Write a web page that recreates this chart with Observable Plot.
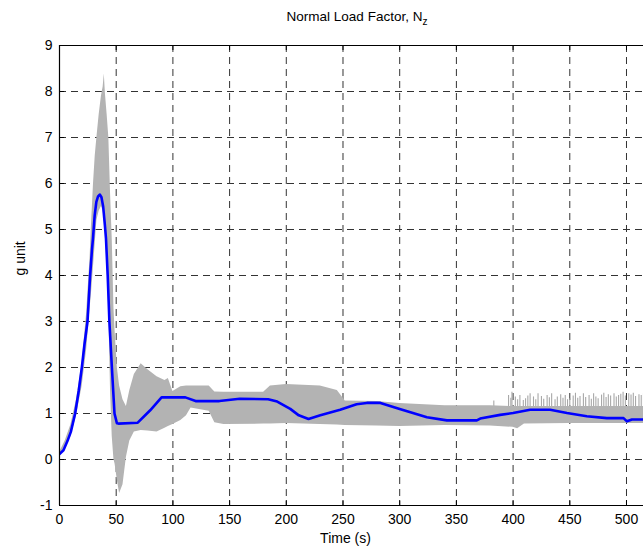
<!DOCTYPE html>
<html>
<head>
<meta charset="utf-8">
<script src="https://cdn.jsdelivr.net/npm/d3@7"></script>
<script src="https://cdn.jsdelivr.net/npm/@observablehq/plot@0.6"></script>
<style>
  html, body { margin: 0; padding: 0; background: #fff; }
  #wrap { position: relative; width: 643px; height: 553px; overflow: hidden; }
  #title { position: absolute; top: 9px; left: 0; width: 714px; text-align: center;
           font: 13.5px "Liberation Sans", Arial, sans-serif; color: #000; }
  #title sub { font-size: 10px; vertical-align: -4px; line-height: 0; }
</style>
</head>
<body>
<div id="wrap"><div id="title">Normal Load Factor, N<sub>z</sub></div></div>
<script>
// Tick values
const xTicks = [0, 50, 100, 150, 200, 250, 300, 350, 400, 450, 500];
const yTicks = [-1, 0, 1, 2, 3, 4, 5, 6, 7, 8, 9];

// Gray Monte Carlo envelope (time, lower bound, upper bound)
const envT  = [0, 5, 10, 15, 20, 24, 27, 28, 30, 31.5, 33, 35, 37, 38.5, 39.5, 40.5, 42, 43.5, 45, 46.5, 48, 49, 51, 53, 56, 59, 62, 66, 72, 78, 86, 93, 96, 100, 107, 112, 116, 132, 137, 145, 180, 186, 200, 230, 245, 252, 280, 300, 340, 380, 400, 404, 410, 450, 515];
const envLo = [0.07, 0.25, 0.50, 0.95, 1.60, 2.40, 3.30, 3.55, 4.20, 4.70, 5.20, 5.40, 5.50, 5.40, 5.20, 4.90, 4.20, 3.20, 1.50, 0.50, 0.00, -0.10, -0.45, -0.74, -0.55, 0.05, 0.40, 0.60, 0.63, 0.62, 0.60, 0.68, 0.72, 0.76, 0.85, 0.95, 1.12, 1.05, 0.80, 0.76, 0.77, 0.77, 0.78, 0.76, 0.75, 0.74, 0.73, 0.72, 0.74, 0.73, 0.70, 0.67, 0.77, 0.78, 0.78];
const envHi = [0.15, 0.40, 0.75, 1.30, 2.10, 3.20, 4.40, 5.00, 6.00, 6.60, 7.00, 7.50, 7.90, 8.10, 8.38, 7.95, 7.50, 7.00, 5.80, 4.80, 3.30, 2.80, 2.00, 1.60, 1.30, 1.15, 1.50, 1.85, 2.08, 1.95, 1.80, 1.72, 1.76, 1.48, 1.58, 1.60, 1.60, 1.60, 1.47, 1.46, 1.46, 1.60, 1.63, 1.60, 1.50, 1.27, 1.26, 1.22, 1.17, 1.17, 1.15, 1.15, 1.15, 1.15, 1.15];

// Noisy gray spikes above the envelope late in the run
const spikeT   = [383, 396, 398, 399, 402, 404, 406, 409, 411, 413, 415, 418, 420, 422, 425, 427, 430, 432, 434, 437, 439, 442, 444, 446, 448, 450, 453, 455, 457, 459, 462, 464, 467, 469, 471, 473, 475, 478, 480, 482, 484, 486, 489, 491, 493, 495, 497, 499, 502, 504, 506, 508, 511, 513, 515];
const spikeTop = [1.27, 1.39, 1.33, 1.46, 1.36, 1.30, 1.39, 1.28, 1.32, 1.38, 1.43, 1.36, 1.30, 1.43, 1.37, 1.31, 1.39, 1.34, 1.43, 1.30, 1.36, 1.41, 1.33, 1.39, 1.30, 1.32, 1.38, 1.44, 1.33, 1.37, 1.43, 1.35, 1.39, 1.31, 1.43, 1.36, 1.32, 1.40, 1.44, 1.35, 1.41, 1.38, 1.43, 1.36, 1.39, 1.42, 1.46, 1.38, 1.43, 1.40, 1.44, 1.37, 1.41, 1.39, 1.43];

// Blue nominal (mean) response
const meanT = [0, 3.5, 7, 10, 13.8, 17, 19.7, 22, 24.7, 27, 28.6, 29.5, 31, 32.5, 34, 35.5, 37, 38.5, 40, 41, 42.5, 44, 46.2, 48.5, 50.6, 52, 69, 80, 90, 111, 120, 141, 159, 184, 192, 203.5, 211, 219.6, 230, 247.5, 262, 271, 283, 300, 324, 341.6, 368, 371, 388.6, 400, 415, 432.7, 447.5, 465, 482.7, 497.4, 500.4, 504.8, 515];
const meanNz = [0.12, 0.2, 0.4, 0.6, 1.0, 1.5, 2.0, 2.5, 3.0, 4.0, 4.55, 4.8, 5.3, 5.6, 5.72, 5.76, 5.7, 5.5, 5.1, 4.8, 4.0, 3.0, 2.0, 1.0, 0.79, 0.78, 0.8, 1.07, 1.35, 1.35, 1.27, 1.27, 1.32, 1.31, 1.26, 1.1, 0.96, 0.88, 0.96, 1.08, 1.2, 1.23, 1.23, 1.1, 0.92, 0.85, 0.85, 0.89, 0.97, 1.01, 1.08, 1.08, 1.01, 0.94, 0.9, 0.9, 0.83, 0.87, 0.87];

const env = envT.map((t, i) => ({t, lo: envLo[i], hi: envHi[i]}));
const spikes = spikeT.map((t, i) => ({t, top: spikeTop[i]}));
const mean = meanT.map((t, i) => ({t, nz: meanNz[i]}));

const W = 643, H = 553, mT = 45, mB = 48, mL = 59, mR = 0;
const plotH = H - mT - mB, plotW = W - mL - mR;
const font = '"Liberation Sans", Arial, sans-serif';
const grid = {stroke: "#333", strokeWidth: 1, strokeDasharray: "7,5"};

const chart = Plot.plot({
  width: W, height: H,
  marginTop: mT, marginBottom: mB, marginLeft: mL, marginRight: mR,
  style: {fontFamily: font, fontSize: "14px", color: "#000", background: "#fff"},
  x: {domain: [0, 515]},
  y: {domain: [-1, 9]},
  marks: [
    Plot.ruleX(xTicks.slice(1), {x: d => d, ...grid}),
    Plot.ruleY(yTicks.slice(1, -1), {y: d => d, ...grid}),
    Plot.ruleX(spikes, {x: "t", y1: 1.1, y2: "top", stroke: "#a8a8a8", strokeWidth: 1.1, clip: true}),
    Plot.areaY(env, {x: "t", y1: "lo", y2: "hi", fill: "#b3b3b3", clip: true}),
    Plot.line(mean, {x: "t", y: "nz", stroke: "#0000ff", strokeWidth: 2.6, clip: true}),
    Plot.tickX(xTicks, {x: d => d, insetTop: plotH - 5, stroke: "#000"}),
    Plot.tickX(xTicks, {x: d => d, insetBottom: plotH - 5, stroke: "#000"}),
    Plot.tickY(yTicks, {y: d => d, insetRight: plotW - 5, stroke: "#000"}),
    Plot.ruleY([-1, 9], {y: d => d, stroke: "#000", strokeWidth: 1.2}),
    Plot.ruleX([0], {x: d => d, stroke: "#000", strokeWidth: 1.2}),
    Plot.axisX({ticks: xTicks, tickSize: 0, tickPadding: 9, tickFormat: d => String(d), label: null, fontSize: 14}),
    Plot.axisY({ticks: yTicks, tickSize: 0, tickPadding: 7, tickFormat: d => String(d), label: null, fontSize: 14}),
    Plot.text(["Time (s)"], {frameAnchor: "bottom", text: d => d, dy: 37, dx: -6, fontSize: 14, fill: "#000"}),
    Plot.text(["g unit"], {frameAnchor: "left", text: d => d, dx: -39, rotate: -90, fontSize: 14, fill: "#000"})
  ]
});
document.getElementById("wrap").appendChild(chart);
</script>
</body>
</html>
